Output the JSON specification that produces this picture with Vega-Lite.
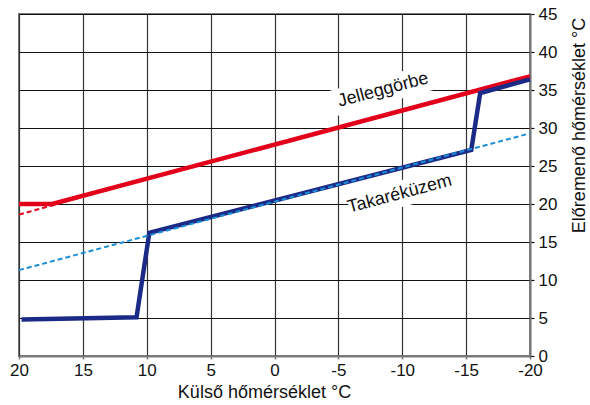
{
  "$schema": "https://vega.github.io/schema/vega-lite/v6.json",
  "width": 511,
  "height": 342,
  "autosize": {"type": "none"},
  "padding": {"left": 19, "top": 14, "right": 60, "bottom": 49},
  "background": "white",
  "config": {
    "view": {"stroke": "#7a7a7a", "strokeWidth": 2},
    "font": "Liberation Sans",
    "axis": {
      "labelFont": "Liberation Sans",
      "titleFont": "Liberation Sans",
      "labelFontSize": 17,
      "titleFontSize": 18,
      "titleFontWeight": "normal",
      "labelColor": "#111",
      "titleColor": "#111",
      "gridColor": "#111",
      "gridWidth": 1.2,
      "gridOpacity": 1,
      "domainColor": "#7a7a7a",
      "domainWidth": 2,
      "labelOverlap": false,
      "labelBound": false,
      "labelFlush": false
    }
  },
  "datasets": {
    "red": [
      {"t": 20, "v": 20},
      {"t": 17.4, "v": 20},
      {"t": -20, "v": 36.8}
    ],
    "redDash": [
      {"t": 20, "v": 18.6},
      {"t": 10, "v": 23.3}
    ],
    "navy": [
      {"t": 19.8, "v": 4.8},
      {"t": 10.8, "v": 5.1},
      {"t": 9.8, "v": 16.2},
      {"t": -15.4, "v": 27.1},
      {"t": -16.1, "v": 34.6},
      {"t": -20, "v": 36.4}
    ],
    "blueDash": [
      {"t": 20, "v": 11.3},
      {"t": -20, "v": 29.3}
    ],
    "labels": [
      {"t": -8.5, "v": 35.0, "text": "Jelleggörbe"},
      {"t": -9.8, "v": 21.3, "text": "Takaréküzem"}
    ]
  },
  "encoding": {
    "x": {
      "field": "t",
      "type": "quantitative",
      "scale": {"domain": [-20, 20], "reverse": true, "nice": false, "zero": false},
      "axis": {
        "orient": "bottom",
        "values": [20, 15, 10, 5, 0, -5, -10, -15, -20],
        "tickCount": 20,
        "labelExpr": "'' + datum.value",
        "title": "Külső hőmérséklet °C",
        "titleX": 245,
        "titleY": 41,
        "titleAlign": "center",
        "titleBaseline": "alphabetic",
        "tickSize": 3,
        "tickColor": "#7a7a7a",
        "tickWidth": 1.5,
        "labelPadding": 3,
        "gridColor": "#333"
      }
    },
    "y": {
      "field": "v",
      "type": "quantitative",
      "scale": {"domain": [0, 45], "nice": false, "zero": true},
      "axis": {
        "orient": "right",
        "values": [0, 5, 10, 15, 20, 25, 30, 35, 40, 45],
        "tickCount": 20,
        "title": "Előremenő hőmérséklet °C",
        "titleAngle": -90,
        "titleX": 49,
        "titleY": 111,
        "titleAlign": "center",
        "titleBaseline": "middle",
        "tickSize": 4,
        "tickColor": "#111",
        "tickWidth": 1.2,
        "labelPadding": 4
      }
    }
  },
  "layer": [
    {
      "data": {"name": "labels"},
      "mark": {
        "type": "point",
        "shape": "M-1,-0.25H1V0.25H-1Z",
        "filled": true,
        "fill": "white",
        "opacity": 1,
        "strokeWidth": 0,
        "size": 11000,
        "angle": -15
      }
    },
    {
      "data": {"name": "redDash"},
      "mark": {"type": "line", "color": "#e2001a", "strokeWidth": 2, "strokeDash": [5, 3]}
    },
    {
      "data": {"name": "red"},
      "mark": {"type": "line", "color": "#e2001a", "strokeWidth": 4.5}
    },
    {
      "data": {"name": "navy"},
      "mark": {"type": "line", "color": "#1c2a87", "strokeWidth": 4.5, "strokeJoin": "miter"}
    },
    {
      "data": {"name": "blueDash"},
      "mark": {"type": "line", "color": "#1b8fd6", "strokeWidth": 2, "strokeDash": [5, 3]}
    },
    {
      "data": {"name": "labels"},
      "mark": {
        "type": "text",
        "font": "Liberation Sans",
        "fontSize": 18,
        "color": "#111",
        "angle": -15,
        "align": "center",
        "baseline": "middle"
      },
      "encoding": {
        "text": {"field": "text"}
      }
    }
  ]
}
